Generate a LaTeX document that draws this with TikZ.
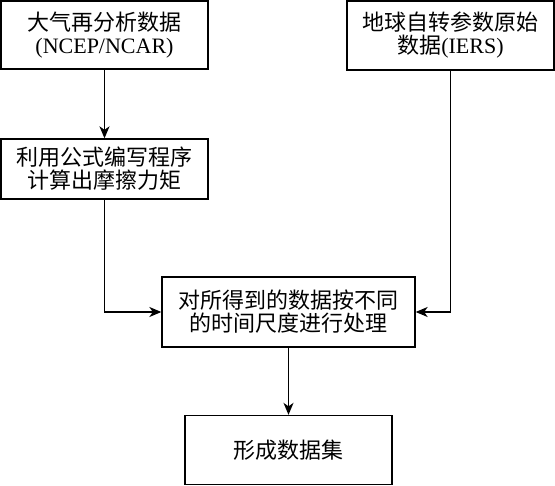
\documentclass[tikz,border=0pt]{standalone}
\usepackage{fontspec}
\setmainfont{Liberation Serif}
\newfontfamily\cjk{Noto Sans CJK SC}
\usetikzlibrary{arrows.meta}
\begin{document}
\begin{tikzpicture}[x=1pt,y=-1pt,
  box/.style={draw,line width=1.3pt,inner sep=0pt,align=center,
    font=\fontsize{22}{23}\selectfont},
  arr/.style={line width=1.3pt,-{Stealth[length=12pt,width=10pt,inset=3.5pt]}}]
\useasboundingbox (0,0) rectangle (555,486);
\node[box,minimum width=207pt,minimum height=68pt] (b1) at (104.5,35) {{\cjk 大气再分析数据}\\(NCEP/NCAR)};
\node[box,minimum width=207pt,minimum height=69pt] (b2) at (450.5,35.5) {{\cjk 地球自转参数原始}\\{\cjk 数据}(IERS)};
\node[box,minimum width=207pt,minimum height=60pt] (b3) at (104.5,169) {{\cjk 利用公式编写程序}\\{\cjk 计算出摩擦力矩}};
\node[box,minimum width=253pt,minimum height=70pt] (b4) at (288.5,312) {{\cjk 对所得到的数据按不同}\\{\cjk 的时间尺度进行处理}};
\node[box,minimum width=207pt,minimum height=69pt] (b5) at (288.5,450) {{\cjk 形成数据集}};
\draw[arr] (b1) -- (b3);
\draw[arr] (b3.south) |- (b4.west);
\draw[arr] (b2.south) |- (b4.east);
\draw[arr] (b4) -- (b5);
\end{tikzpicture}
\end{document}
